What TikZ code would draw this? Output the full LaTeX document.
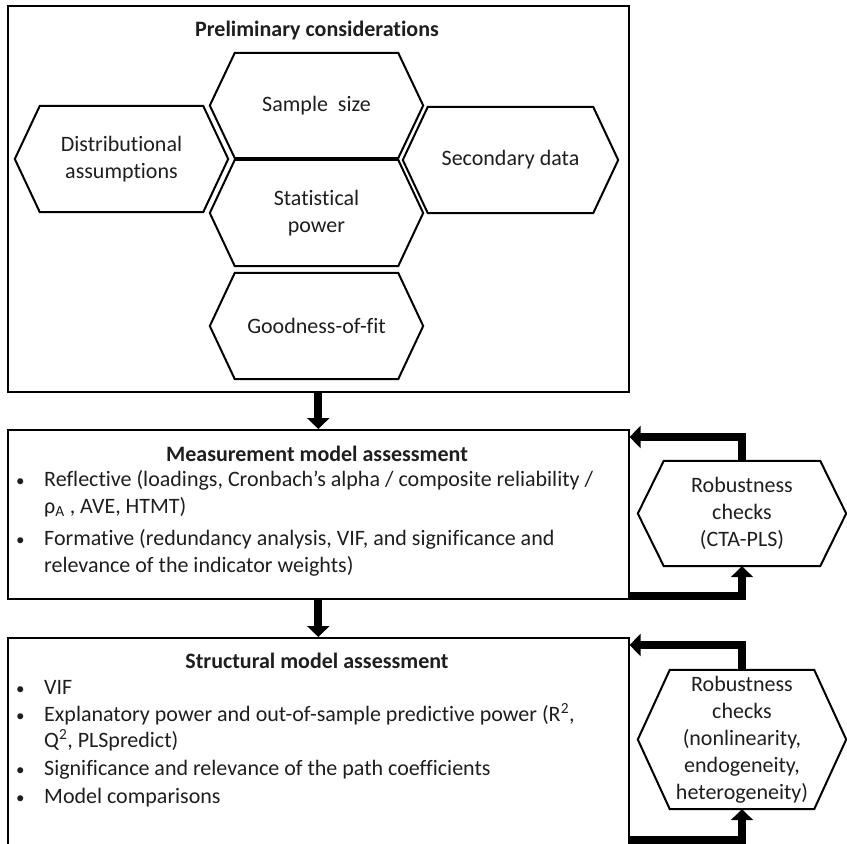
\documentclass[tikz,border=0pt]{standalone}
\usepackage{fontspec}
\setmainfont{Carlito}[Ligatures=NoCommon]
\usetikzlibrary{arrows.meta}
\definecolor{ink}{RGB}{30,30,30}
\begin{document}
\begin{tikzpicture}[x=1pt,y=-1pt,
  box/.style={draw=black, line width=1.6pt, minimum width=621pt, inner sep=0pt, anchor=north west},
  hex/.style={inner sep=0pt, align=center, text=ink, font=\fontsize{22}{27}\selectfont},
  txt/.style={inner sep=0pt, anchor=base west, text=ink, font=\fontsize{22}{27}\selectfont},
  bul/.style={inner sep=0pt, anchor=base west, text=ink, font=\fontsize{17}{27}\selectfont},
  ttl/.style={inner sep=0pt, anchor=base, text=ink, font=\bfseries\fontsize{22}{27}\selectfont},
  flow/.style={line width=8pt, -{Triangle[width=22pt,length=11pt]}},
  hexline/.style={draw=black, line width=2pt, line join=miter}
]
\path[use as bounding box] (0,0) rectangle (847,844);
\clip (0,0) rectangle (847,844);

% boxes
\node[box, minimum height=386pt] (tb) at (7,5) {};
\node[box, minimum height=169pt] (mb) at (7,429) {};
\node[box, minimum height=240pt] (sb) at (7,637) {};

% hexagons
\node[hex, minimum width=213pt, minimum height=105pt] (ss) at (316.5,105.5) {Sample\ \ size};
\node[hex, minimum width=213pt, minimum height=106pt] (sp) at (316.5,213) {Statistical\\power};
\node[hex, minimum width=213pt, minimum height=106pt] (gf) at (316.5,326) {Goodness-of-fit};
\node[hex, minimum width=213pt, minimum height=106pt] (da) at (121.5,159) {Distributional\\assumptions};
\node[hex, minimum width=215pt, minimum height=106pt] (sd) at (510.5,160) {Secondary data};
\node[hex, minimum width=208pt, minimum height=105pt] (rc1) at (742,513.5) {Robustness\\checks\\(CTA-PLS)};
\node[hex, minimum width=208pt, minimum height=139pt] (rc2) at (742,739.5) {Robustness\\checks\\(nonlinearity,\\endogeneity,\\heterogeneity)};

\foreach \n/\i in {ss/25pt, sp/25pt, gf/25pt, da/25pt, sd/25pt, rc1/26pt, rc2/32pt}
  \draw[hexline] (\n.west) -- ([xshift=\i]\n.north west) -- ([xshift=-\i]\n.north east)
    -- (\n.east) -- ([xshift=-\i]\n.south east) -- ([xshift=\i]\n.south west) -- cycle;

% titles and texts
\node[ttl] (pt) at (317,36) {Preliminary considerations};

\node[ttl] (mt) at (317,461) {Measurement model assessment};
\node[bul] (mbu1) at (16,486) {•};
\node[txt] (m1a) at (44,486) {Reflective (loadings, Cronbach’s alpha / composite reliability /};
\node[txt] (m1b) at (44,513) {ρ\textsubscript{A} , AVE, HTMT)};
\node[bul] (mbu2) at (16,545) {•};
\node[txt] (m2a) at (44,545) {Formative (redundancy analysis, VIF, and significance and};
\node[txt] (m2b) at (44,572) {relevance of the indicator weights)};

\node[ttl] (st) at (317,668) {Structural model assessment};
\node[bul] (sbu1) at (16,694) {•};
\node[txt] (s1) at (44,694) {VIF};
\node[bul] (sbu2) at (16,721) {•};
\node[txt] (s2a) at (44,721) {Explanatory power and out-of-sample predictive power (R\textsuperscript{2},};
\node[txt] (s2b) at (44,747) {Q\textsuperscript{2}, PLSpredict)};
\node[bul] (sbu3) at (16,775) {•};
\node[txt] (s3) at (44,775) {Significance and relevance of the path coefficients};
\node[bul] (sbu4) at (16,803) {•};
\node[txt] (s4) at (44,803) {Model comparisons};

% flow arrows
\draw[flow] (tb.south) -- (mb.north);
\draw[flow] (mb.south) -- (sb.north);

% feedback loops
\draw[flow] (rc1.north) |- ([yshift=-8pt]mb.north east);
\draw[flow] ([yshift=4pt]mb.south east) -| (rc1.south);
\draw[flow] (rc2.north) |- ([yshift=-8pt]sb.north east);
\coordinate (sbb) at (628,840);
\draw[flow] (sbb) -| (rc2.south);
\end{tikzpicture}
\end{document}
